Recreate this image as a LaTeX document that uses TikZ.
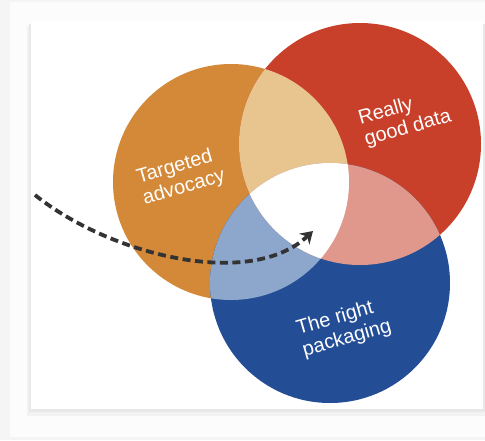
\documentclass[tikz,border=0pt]{standalone}
\usepackage{fontspec}
\setmainfont{Liberation Sans}
\usetikzlibrary{arrows.meta}
\definecolor{advorange}{HTML}{D48938}
\definecolor{datared}{HTML}{C8402A}
\definecolor{packblue}{HTML}{234E96}
\definecolor{orangered}{HTML}{E8C48E}
\definecolor{redblue}{HTML}{E0988C}
\definecolor{orangeblue}{HTML}{8CA6CC}
\tikzstyle{venntext}=[text=white, font=\fontsize{20}{22}\selectfont, align=left, rotate=16, inner sep=0pt]
\tikzstyle{arrow}=[draw=black!80, line width=3.8pt, dash pattern=on 8pt off 4.5pt, -{Stealth[length=12pt,width=15pt,inset=4pt]}]

\begin{document}
\begin{tikzpicture}[x=1pt, y=-1pt]
		   \useasboundingbox (0,0) rectangle (485,440);
		   \begin{scope}
			   % page and card
			   \fill[black!4] (0,0) rectangle (485,440);
			   \fill[black!1] (10,2) rectangle (485,437);
			   \fill[black!5] (27,26) rectangle (485,416);
			   \fill[black!9] (29,24) rectangle (485,412);
			   \fill[white] (31,22) rectangle (483,409);
		   \end{scope}
		   \begin{scope}
			   \fill[advorange] (231,182) circle (118);
			   \fill[datared] (360,144) circle (121);
			   \fill[packblue] (330,283) circle (120);
			   \begin{scope}
				   \clip (231,182) circle (118);
				   \fill[orangered] (360,144) circle (121);
				   \fill[orangeblue] (330,283) circle (120);
			   \end{scope}
			   \begin{scope}
				   \clip (360,144) circle (121);
				   \fill[redblue] (330,283) circle (120);
				   \clip (231,182) circle (118);
				   \fill[white] (330,283) circle (120);
			   \end{scope}
		   \end{scope}
		   \begin{scope}
			   \node (advocacy) at (181,177)[venntext] {Targeted\\advocacy};
			   \node (data) at (405,118)[venntext] {Really\\good data};
			   \node (packaging) at (344,328)[venntext] {The right\\packaging};
		   \end{scope}
		   \begin{scope}
			   \coordinate (start) at (35,195);
			   \coordinate (goal) at (313,231);
			   \path [arrow] (start) .. controls (110,255) and (250,290) .. (goal);
		   \end{scope}
	   \end{tikzpicture}
\end{document}
